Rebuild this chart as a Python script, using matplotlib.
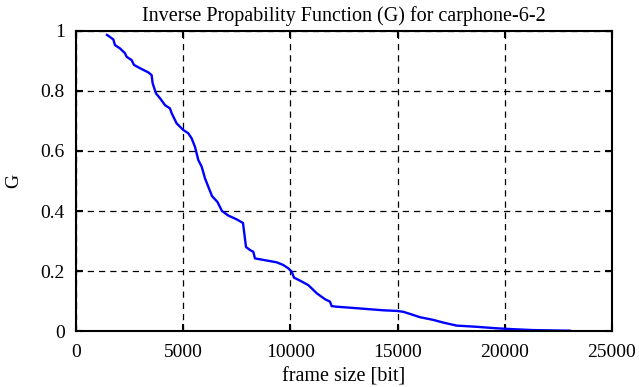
import matplotlib
matplotlib.use('Agg')
import matplotlib.pyplot as plt

# frame size [bit] and G values
frame_size = [1446, 1507, 1741, 1819, 2052, 2285, 2363, 2596, 2705, 2985,
              3374, 3529, 3575, 3731, 3918, 4151, 4384, 4462, 4695, 5006,
              5239, 5395, 5550, 5705, 5862, 6017, 6343, 6600, 6810, 7100,
              7500, 7790, 7930, 8116, 8270, 8349, 8736, 9356, 9669, 9902,
              10059, 10168, 10448, 10835, 11068, 11225, 11614, 11847, 11924, 12157,
              13090, 14333, 14955, 15266, 15578, 16045, 16667, 17133, 17444, 17755,
              18688, 19621, 20397, 21330, 23041]
g_values = [0.987, 0.984, 0.972, 0.953, 0.942, 0.926, 0.914, 0.903, 0.887, 0.876,
            0.862, 0.853, 0.826, 0.792, 0.776, 0.753, 0.742, 0.726, 0.692, 0.670,
            0.659, 0.642, 0.614, 0.570, 0.548, 0.509, 0.450, 0.430, 0.400, 0.385,
            0.372, 0.360, 0.280, 0.270, 0.264, 0.242, 0.237, 0.229, 0.220, 0.209,
            0.198, 0.178, 0.168, 0.153, 0.137, 0.126, 0.106, 0.098, 0.083, 0.081,
            0.076, 0.069, 0.067, 0.064, 0.057, 0.046, 0.037, 0.028, 0.023, 0.018,
            0.014, 0.009, 0.006, 0.003, 0.001]

plt.rcParams['font.family'] = 'Liberation Serif'
plt.rcParams['font.size'] = 14

fig = plt.figure(figsize=(6.39, 3.87), dpi=100)
ax = fig.add_axes([0.1189, 0.1447, 0.8388, 0.7752])

ax.plot(frame_size, g_values, color='#0000ff', linewidth=1.7)

ax.set_xlim(0, 25000)
ax.set_ylim(0, 1)
ax.set_xticks([0, 5000, 10000, 15000, 20000, 25000])
ax.set_yticks([0, 0.2, 0.4, 0.6, 0.8, 1])
ax.set_yticklabels(['0', '0.2', '0.4', '0.6', '0.8', '1'])
ax.grid(True, color='black', linestyle=(0, (5, 4)), linewidth=0.9)
ax.tick_params(direction='in', top=True, right=True, length=5, width=1.5)
ax.tick_params(axis='x', pad=9)
ax.tick_params(axis='y', pad=8)
for s in ax.spines.values():
    s.set_linewidth(1.5)

ax.set_title('Inverse Propability Function (G) for carphone-6-2', fontsize=14.5, pad=7)
ax.set_xlabel('frame size [bit]', fontsize=14.5, labelpad=5)
ax.set_ylabel('G', labelpad=13)

fig.savefig('out.png', dpi=100)
